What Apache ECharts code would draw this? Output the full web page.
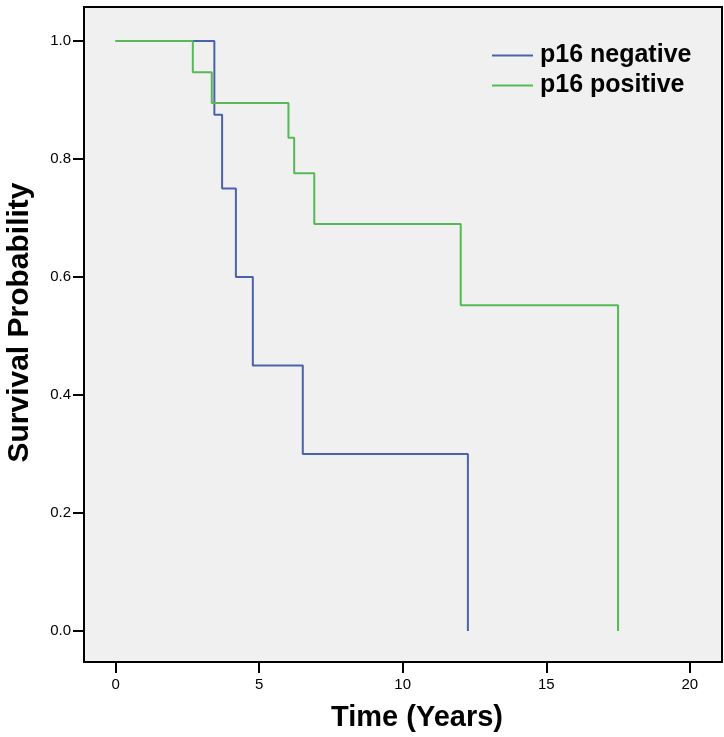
<!DOCTYPE html>
<html>
<head>
<meta charset="utf-8">
<script src="https://cdn.jsdelivr.net/npm/echarts@6/dist/echarts.min.js"></script>
<style>
  html, body { margin: 0; padding: 0; background: #fff; }
  #chart { width: 724px; height: 737px; }
</style>
</head>
<body>
<div id="chart"></div>
<script>
// Kaplan-Meier steps
const negTimes = [0, 3.44, 3.71, 4.19, 4.78, 6.52, 12.27]
const negSurv = [1, 0.875, 0.75, 0.6, 0.45, 0.3, 0]
const posTimes = [0, 2.69, 3.35, 6.02, 6.22, 6.92, 12.02, 17.50]
const posSurv = [1, 0.947, 0.895, 0.836, 0.776, 0.690, 0.552, 0]

const xTicks = [0, 5, 10, 15, 20]
const yTicks = [0, 0.2, 0.4, 0.6, 0.8, 1.0]
const seriesNames = ['p16 negative', 'p16 positive']
const colors = ['#4a62ab', '#55b955']

const pairs = (xs, ys) => xs.map((x, i) => [x, ys[i]])

const chart = echarts.init(document.getElementById('chart'))
chart.setOption({
  animation: false,
  textStyle: { fontFamily: 'Liberation Sans, Arial, sans-serif' },
  grid: {
    left: 84, top: 7, right: 2, bottom: 75,
    containLabel: false,
    outerBoundsMode: 'none',
    show: true,
    backgroundColor: '#f0f0f0',
    borderColor: '#000',
    borderWidth: 2
  },
  legend: {
    orient: 'vertical',
    left: 492,
    top: 43,
    padding: 0,
    itemWidth: 41,
    itemHeight: 2,
    itemGap: 5,
    icon: 'rect',
    data: seriesNames,
    textStyle: { fontSize: 25, fontWeight: 'bold', color: '#000', lineHeight: 25, padding: [0, 0, 0, 2] }
  },
  xAxis: {
    type: 'value',
    min: -1.1,
    max: 21.12,
    name: 'Time (Years)',
    nameLocation: 'middle',
    nameGap: 41,
    nameTextStyle: { fontSize: 29, fontWeight: 'bold', color: '#000', padding: [0, 0, 0, 28] },
    axisLine: { show: true, onZero: false, lineStyle: { color: '#000', width: 2 } },
    axisTick: { show: true, length: 11, customValues: xTicks, lineStyle: { color: '#000', width: 2 } },
    axisLabel: { customValues: xTicks, margin: 15, fontSize: 15, color: '#000' },
    splitLine: { show: false }
  },
  yAxis: {
    type: 'value',
    min: -0.0525,
    max: 1.0576,
    name: 'Survival Probability',
    nameLocation: 'middle',
    nameGap: 49,
    nameTextStyle: { fontSize: 30, fontWeight: 'bold', color: '#000', padding: [0, 0, 0, 24] },
    axisLine: { show: true, onZero: false, lineStyle: { color: '#000', width: 2 } },
    axisTick: { show: true, length: 11, customValues: yTicks, lineStyle: { color: '#000', width: 2 } },
    axisLabel: {
      customValues: yTicks,
      margin: 13,
      fontSize: 15,
      color: '#000',
      formatter: v => v.toFixed(1)
    },
    splitLine: { show: false }
  },
  series: [
    {
      name: seriesNames[0],
      type: 'line',
      step: 'end',
      showSymbol: false,
      color: colors[0],
      lineStyle: { width: 2 },
      data: pairs(negTimes, negSurv)
    },
    {
      name: seriesNames[1],
      type: 'line',
      step: 'end',
      showSymbol: false,
      color: colors[1],
      lineStyle: { width: 2 },
      data: pairs(posTimes, posSurv)
    }
  ]
})
</script>
</body>
</html>
